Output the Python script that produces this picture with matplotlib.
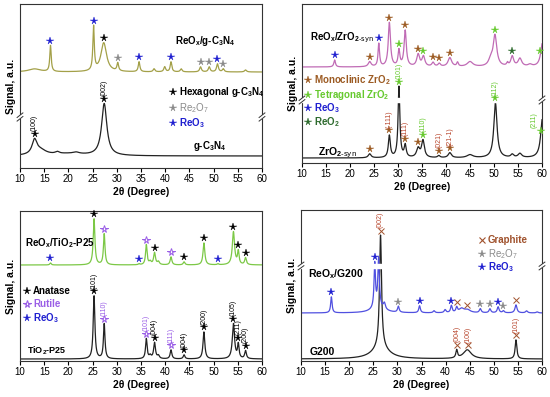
import numpy as np
import matplotlib
matplotlib.use("Agg")
import matplotlib.pyplot as plt
from matplotlib.patches import Rectangle

plt.rcParams["font.family"] = ["Liberation Sans", "DejaVu Sans"]
plt.rcParams["mathtext.default"] = "regular"

# -----------------------------
# data (peak position, height, FWHM), heights in px
# -----------------------------
two_theta = np.linspace(10, 60, 2500)

# g-C3N4 panel
gcn_base = 12
gcn_pos = [13.0, 14.2, 17.7, 20.0, 21.6, 27.4]
gcn_amp = [14, 5, 2, 2, 1.5, 52]
gcn_fwhm = [1.2, 3.0, 1.0, 8.0, 1.5, 1.3]

regcn_base = 96
regcn_pos = [13.0, 16.3, 25.2, 27.3, 30.2, 34.6, 37.7, 39.9, 41.2, 43.3, 47.3, 49.1, 50.8, 52.0, 56.6]
regcn_amp = [3, 26, 44, 29, 8, 10, 3, 5, 10, 3, 5, 5, 8, 3, 2]
regcn_fwhm = [3.0, 0.35, 0.35, 1.4, 0.4, 0.4, 0.45, 0.45, 0.4, 0.45, 0.45, 0.45, 0.45, 0.45, 0.5]

# ZrO2 panel
zro_base = 5
zro_pos = [24.1, 28.2, 30.2, 31.5, 34.2, 35.2, 38.5, 40.8, 45.0, 50.3, 53.8, 55.4, 60.1]
zro_amp = [4, 22, 71, 12, 9, 17, 2, 5, 3, 55, 3, 4, 40]
zro_fwhm = [0.7, 0.5, 0.45, 0.5, 0.8, 0.7, 0.6, 0.8, 1.5, 0.8, 0.7, 0.9, 0.9]

rezro_base = 96
rezro_pos = [16.8, 24.1, 26.0, 28.2, 30.2, 31.5, 34.2, 35.3, 37.3, 38.6, 40.8, 42.4, 45.0, 49.3, 50.2,
             52.8, 53.8, 55.4, 57.5, 60.1]
rezro_amp = [7, 5, 23, 44, 16, 36, 12, 10, 4, 3, 9, 4, 5, 6, 31, 3, 10, 8, 2, 24]
rezro_fwhm = [0.4, 0.7, 0.38, 0.55, 0.45, 0.55, 0.7, 0.7, 0.6, 0.6, 0.9, 0.4, 1.4, 1.0, 0.9,
              0.4, 0.7, 0.9, 1.0, 0.9]

# TiO2-P25 panel
tio_base = 2
tio_pos = [25.3, 27.4, 36.1, 36.9, 37.8, 38.6, 41.2, 43.9, 48.0, 54.1, 55.1, 56.6]
tio_amp = [63, 35, 20, 3, 16, 3, 9, 4, 27, 35, 14, 8]
tio_fwhm = [0.42, 0.38, 0.38, 0.5, 0.45, 0.5, 0.42, 0.42, 0.45, 0.55, 0.38, 0.42]

retio_base = 96
retio_pos = [16.3, 25.3, 27.4, 34.6, 36.1, 36.9, 37.8, 38.6, 41.2, 43.9, 48.0, 50.9, 54.1, 55.1, 56.6]
retio_amp = [2, 46, 31, 1, 20, 3, 12, 3, 8, 3, 22, 1, 33, 13, 7]
retio_fwhm = [0.35, 0.42, 0.38, 0.35, 0.38, 0.5, 0.45, 0.5, 0.42, 0.42, 0.45, 0.35, 0.55, 0.38, 0.42]

# G200 panel
g200_base = 2
g200_pos = [26.5, 26.5, 42.3, 44.5, 54.6]
g200_amp = [112, 12, 8, 9, 19]
g200_fwhm = [0.5, 4.0, 0.4, 2.0, 0.42]

reg200_base = 48
reg200_pos = [16.3, 25.3, 26.1, 26.0, 27.3, 30.2, 34.6, 37.6, 39.9, 41.2, 42.3, 43.3, 44.5, 47.2,
              49.2, 50.9, 52.0, 54.6, 56.8, 59.0]
reg200_amp = [16, 44, 48, 6, 6, 6, 7, 2, 3, 7, 5, 4, 3, 4, 4, 6, 2, 8, 2, 1]
reg200_fwhm = [0.35, 0.35, 0.38, 3.0, 0.5, 0.4, 0.4, 0.45, 0.45, 0.4, 0.4, 1.2, 1.5, 0.45,
               0.45, 0.45, 0.45, 0.5, 0.5, 0.5]

# phase markers: positions on each pattern
regcn_reo3 = [16.3, 25.2, 34.6, 41.2, 50.8]
regcn_re2o7 = [30.2, 47.3, 49.1, 52.0]
regcn_gcn = [27.3]
gcn_hkl_pos = [13.0, 27.4]
gcn_hkl = ["(100)", "(002)"]

rezro_reo3 = [16.8, 26.0]
rezro_mono = [24.1, 28.2, 31.5, 34.2, 37.3, 38.6, 40.8]
rezro_tetra = [30.2, 35.3, 50.2, 59.6]
rezro_reo2 = [53.8]
zro_mono_nolabel = [24.1, 34.2]
zro_mono_pos = [28.2, 31.5, 38.5, 40.8]
zro_mono_hkl = ["(-111)", "(111)", "(021)", "(21-1)"]
zro_tetra_pos = [30.2, 35.2, 50.3, 59.7]
zro_tetra_hkl = ["(101)", "(110)", "(112)", "(211)"]

retio_anatase = [25.3, 37.8, 43.9, 48.0, 54.1, 55.1, 56.6]
retio_rutile = [27.4, 36.1, 41.2]
retio_reo3 = [16.3, 34.6, 50.9]
tio_anatase_pos = [25.3, 37.8, 43.9, 48.0, 54.1, 55.1, 56.6]
tio_anatase_hkl = ["(101)", "(004)", "(004)", "(200)", "(105)", "(211)", "(200)"]
tio_rutile_pos = [27.4, 36.1, 41.2]
tio_rutile_hkl = ["(110)", "(101)", "(111)"]

reg200_reo3 = [16.3, 25.3, 34.6, 41.2, 50.9]
reg200_re2o7 = [30.2, 47.2, 49.2, 52.0]
reg200_graphite = [42.3, 44.5, 54.6]
g200_hkl_pos = [26.5, 42.3, 44.6, 54.6]
g200_hkl = ["(002)", "(004)", "(100)", "(101)"]

# colours
BLUE = "#1f1fd0"
GRAY = "#8a8a8a"
BROWN = "#9c5b23"
LIME = "#66c92e"
DKGREEN = "#2e6b2e"
PURPLE = "#9a5ee6"
GRAPH = "#a0522d"
RED = "#b8452c"


def profile(x, base, pos, amp, fwhm):
    y = np.full_like(x, float(base))
    for p, a, w in zip(pos, amp, fwhm):
        y += a / (1 + ((x - p) / (w / 2)) ** 2)
    return y


def add_px(fig, l, t, r, b):
    return fig.add_axes([l / 550, 1 - b / 397, (r - l) / 550, (b - t) / 397])


def style(ax, height):
    ax.set_xlim(10, 60)
    ax.set_ylim(0, height)
    ax.set_xticks(range(10, 61, 5))
    ax.set_yticks([])
    ax.tick_params(axis="x", direction="out", length=3, width=0.8, labelsize=7, pad=1.5)
    for s in ax.spines.values():
        s.set_color("#333333")
        s.set_linewidth(0.8)
    ax.set_xlabel("2θ (Degree)", fontsize=7.5, fontweight="bold", labelpad=2)
    ax.set_ylabel("Signal, a.u.", fontsize=7.5, fontweight="bold", labelpad=3)


def axis_break(ax, yb, height, band=False):
    g = 1.8 / height
    for x0 in (0, 1):
        ax.add_patch(Rectangle((x0 - 0.015, yb / height - g), 0.03, 2 * g, transform=ax.transAxes,
                               facecolor="white", edgecolor="none", zorder=4, clip_on=False))
        for dy in (-g, g):
            ax.plot([x0 - 0.012, x0 + 0.012], [yb / height + dy - 0.014, yb / height + dy + 0.014],
                    transform=ax.transAxes, color="#333333", lw=0.7, zorder=5, clip_on=False)
    if band:
        ax.axhspan(yb - 1.6, yb + 1.6, color="white", zorder=3)


def stars(ax, x, y, positions, color, off=4.5, marker="*", ms=5.5, open_=False):
    for p in positions:
        yv = np.interp(p, x, y) + off
        ax.plot(p, yv, marker=marker, ms=ms, color=color, mfc="none" if open_ else color,
                mew=0.7 if (open_ or marker == "x") else 0.3, zorder=6, clip_on=False)


def hkl(ax, x, y, positions, labels, color, off=4.5, dx=None):
    for i, (p, lab) in enumerate(zip(positions, labels)):
        yv = np.interp(p, x, y) + off + 2.5
        xp = p if dx is None or dx[i] == 0 else p + dx[i]
        ax.text(xp, yv, lab, rotation=90, fontsize=5, color=color, ha="center", va="bottom",
                zorder=6, clip_on=False)


def legend(ax, x, rows):
    for (y, marker, color, label, weight, open_) in rows:
        ax.plot(x, y, marker=marker, ms=5.5 if marker == "*" else 4.5, color=color,
                mfc="none" if open_ else color, mew=0.8 if (open_ or marker == "x") else 0.3,
                transform=ax.transAxes, clip_on=False, zorder=6)
        ax.text(x + 0.025, y, label, transform=ax.transAxes, fontsize=7, fontweight=weight,
                color=color, va="center", ha="left", zorder=6)


fig = plt.figure(figsize=(5.5, 3.97), dpi=100)

# ---------- panel 1: g-C3N4 ----------
H1 = 164
ax1 = add_px(fig, 20, 4, 262, 168)
y_gcn = profile(two_theta, gcn_base, gcn_pos, gcn_amp, gcn_fwhm)
y_regcn = profile(two_theta, regcn_base, regcn_pos, regcn_amp, regcn_fwhm)
ax1.plot(two_theta, y_gcn, color="#222222", lw=0.9)
ax1.plot(two_theta, y_regcn, color="#a3a048", lw=0.9)
style(ax1, H1)
axis_break(ax1, 51, H1)
stars(ax1, two_theta, y_regcn, regcn_reo3, BLUE)
stars(ax1, two_theta, y_regcn, regcn_re2o7, GRAY)
stars(ax1, two_theta, y_regcn, regcn_gcn, "black")
stars(ax1, two_theta, y_gcn, gcn_hkl_pos, "black")
hkl(ax1, two_theta, y_gcn, gcn_hkl_pos, gcn_hkl, "black")
ax1.text(0.64, 0.774, "ReO$_x$/g-C$_3$N$_4$", transform=ax1.transAxes, fontsize=7, fontweight="bold", va="center")
ax1.text(0.715, 0.134, "g-C$_3$N$_4$", transform=ax1.transAxes, fontsize=7, fontweight="bold", va="center")
legend(ax1, 0.632, [(0.463, "*", "black", "Hexagonal g-C$_3$N$_4$", "bold", False),
                    (0.366, "*", GRAY, "Re$_2$O$_7$", "normal", False),
                    (0.274, "*", BLUE, "ReO$_3$", "bold", False)])

# ---------- panel 2: ZrO2 ----------
H2 = 159
ax2 = add_px(fig, 302, 4, 542, 163)
y_zro = profile(two_theta, zro_base, zro_pos, zro_amp, zro_fwhm)
y_rezro = profile(two_theta, rezro_base, rezro_pos, rezro_amp, rezro_fwhm)
ax2.plot(two_theta, y_zro, color="#222222", lw=0.9)
ax2.plot(two_theta, y_rezro, color="#c06bb5", lw=0.9)
style(ax2, H2)
axis_break(ax2, 63, H2, band=True)
stars(ax2, two_theta, y_rezro, rezro_reo3, BLUE)
stars(ax2, two_theta, y_rezro, rezro_mono, BROWN)
stars(ax2, two_theta, y_rezro, rezro_tetra, LIME)
stars(ax2, two_theta, y_rezro, rezro_reo2, DKGREEN)
stars(ax2, two_theta, y_zro, zro_mono_nolabel, BROWN)
stars(ax2, two_theta, y_zro, zro_mono_pos, BROWN)
stars(ax2, two_theta, y_zro, zro_tetra_pos, LIME)
hkl(ax2, two_theta, y_zro, zro_mono_pos, zro_mono_hkl, RED)
hkl(ax2, two_theta, y_zro, zro_tetra_pos, zro_tetra_hkl, LIME, dx=[0, 0, 0, -1.3])
ax2.text(0.033, 0.786, "ReO$_x$/ZrO$_{2\\text{-syn}}$", transform=ax2.transAxes, fontsize=7,
         fontweight="bold", va="center")
ax2.text(0.067, 0.063, "ZrO$_{2\\text{-syn}}$", transform=ax2.transAxes, fontsize=7.5, fontweight="bold", va="center")
legend(ax2, 0.025, [(0.522, "*", BROWN, "Monoclinic ZrO$_2$", "bold", False),
                    (0.428, "*", LIME, "Tetragonal ZrO$_2$", "bold", False),
                    (0.346, "*", BLUE, "ReO$_3$", "bold", False),
                    (0.258, "*", DKGREEN, "ReO$_2$", "bold", False)])

# ---------- panel 3: TiO2-P25 ----------
H3 = 150
ax3 = add_px(fig, 20, 211, 262, 361)
y_tio = profile(two_theta, tio_base, tio_pos, tio_amp, tio_fwhm)
y_retio = profile(two_theta, retio_base, retio_pos, retio_amp, retio_fwhm)
ax3.plot(two_theta, y_tio, color="#222222", lw=0.9)
ax3.plot(two_theta, y_retio, color="#7cc846", lw=0.9)
style(ax3, H3)
stars(ax3, two_theta, y_retio, retio_anatase, "black")
stars(ax3, two_theta, y_retio, retio_rutile, PURPLE, open_=True)
stars(ax3, two_theta, y_retio, retio_reo3, BLUE)
stars(ax3, two_theta, y_tio, tio_anatase_pos, "black")
stars(ax3, two_theta, y_tio, tio_rutile_pos, PURPLE, open_=True)
hkl(ax3, two_theta, y_tio, tio_anatase_pos, tio_anatase_hkl, "black")
hkl(ax3, two_theta, y_tio, tio_rutile_pos, tio_rutile_hkl, PURPLE)
ax3.text(0.02, 0.787, "ReO$_x$/TiO$_2$-P25", transform=ax3.transAxes, fontsize=7, fontweight="bold", va="center")
ax3.text(0.029, 0.067, "TiO$_2$-P25", transform=ax3.transAxes, fontsize=6.5, fontweight="bold", va="center")
legend(ax3, 0.029, [(0.467, "*", "black", "Anatase", "bold", False),
                    (0.38, "*", PURPLE, "Rutile", "bold", True),
                    (0.287, "*", BLUE, "ReO$_3$", "bold", False)])

# ---------- panel 4: G200 ----------
H4 = 151
ax4 = add_px(fig, 301, 210, 542, 361)
y_g200 = profile(two_theta, g200_base, g200_pos, g200_amp, g200_fwhm)
y_reg200 = profile(two_theta, reg200_base, reg200_pos, reg200_amp, reg200_fwhm)
ax4.plot(two_theta, y_g200, color="#222222", lw=0.9)
ax4.plot(two_theta, y_reg200, color="#5050e0", lw=0.9)
style(ax4, H4)
axis_break(ax4, 95, H4, band=True)
stars(ax4, two_theta, y_reg200, reg200_reo3, BLUE)
stars(ax4, two_theta, y_reg200, reg200_re2o7, GRAY)
stars(ax4, two_theta, y_reg200, reg200_graphite, GRAPH, marker="x", ms=4.5)
stars(ax4, two_theta, y_g200, g200_hkl_pos, GRAPH, marker="x", ms=4.5)
hkl(ax4, two_theta, y_g200, g200_hkl_pos, g200_hkl, RED)
ax4.text(0.029, 0.576, "ReO$_x$/G200", transform=ax4.transAxes, fontsize=7.5, fontweight="bold", va="center")
ax4.text(0.037, 0.06, "G200", transform=ax4.transAxes, fontsize=7.5, fontweight="bold", va="center")
legend(ax4, 0.751, [(0.801, "x", GRAPH, "Graphite", "bold", False),
                    (0.709, "*", GRAY, "Re$_2$O$_7$", "normal", False),
                    (0.623, "*", BLUE, "ReO$_3$", "bold", False)])

fig.savefig("out.png", dpi=100)
